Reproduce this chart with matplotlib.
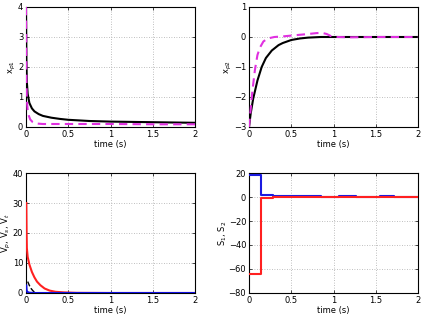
import matplotlib
matplotlib.use("Agg")
import matplotlib.pyplot as plt

# Top-left: x_p1
t_p1_a = [0, 0.005, 0.01, 0.02, 0.04, 0.07, 0.1, 0.15, 0.2, 0.3, 0.4, 0.5, 0.75, 1.0, 1.25, 1.5, 1.75, 2.0]
xp1_a = [4.0, 2.2, 1.5, 1.1, 0.8, 0.62, 0.52, 0.43, 0.37, 0.31, 0.27, 0.24, 0.2, 0.18, 0.17, 0.16, 0.15, 0.14]
t_p1_b = [0, 0.005, 0.01, 0.02, 0.03, 0.05, 0.08, 0.1, 0.15, 0.2, 0.5, 1.0, 1.5, 2.0]
xp1_b = [4.0, 1.6, 0.9, 0.55, 0.4, 0.25, 0.16, 0.13, 0.11, 0.1, 0.1, 0.1, 0.09, 0.09]

# Top-right: x_p2
t_p2_a = [0, 0.02, 0.05, 0.1, 0.15, 0.2, 0.27, 0.35, 0.4, 0.5, 0.6, 0.7, 0.85, 1.0, 1.5, 2.0]
xp2_a = [-3.0, -2.55, -2.05, -1.45, -1.0, -0.7, -0.45, -0.27, -0.2, -0.1, -0.05, -0.02, 0.0, 0.0, 0.0, 0.0]
t_p2_b = [0, 0.02, 0.04, 0.07, 0.1, 0.13, 0.17, 0.22, 0.3, 0.4, 0.55, 0.7, 0.8, 0.86, 0.92, 0.97, 1.05, 1.2, 1.5, 2.0]
xp2_b = [-3.0, -2.4, -1.8, -1.1, -0.6, -0.35, -0.15, -0.05, 0.0, 0.02, 0.06, 0.1, 0.13, 0.14, 0.1, 0.03, 0.0, -0.01, 0.0, 0.0]

# Bottom-left: V_p, V_s, V_t
t_v = [0.004, 0.007, 0.01, 0.02, 0.04, 0.07, 0.1, 0.13, 0.17, 0.22, 0.28, 0.35, 0.45, 0.6, 1.0, 2.0]
v_red = [30.0, 20.0, 15.0, 12.0, 9.5, 7.0, 5.2, 3.8, 2.6, 1.5, 0.8, 0.4, 0.2, 0.05, 0.0, 0.0]
v_blue = [2.5, 1.2, 0.6, 0.3, 0.1, 0.05, 0.0, 0.0, 0.0, 0.0, 0.0, 0.0, 0.0, 0.0, 0.0, 0.0]
t_vk = [0.02, 0.04, 0.06, 0.08, 0.1, 0.12]
v_black = [3.8, 2.5, 1.5, 0.8, 0.3, 0.0]

# Bottom-right: S_1, S_2 (step)
t_s = [0, 0.14, 0.28, 0.85, 1.07, 1.27, 1.55, 1.72, 2.0]
s1 = [18, 2, 1, 0, 1, 0, 1, 0, 0]
s2 = [-64, -1, -0.3, -0.3, -0.3, -0.3, -0.3, -0.3, -0.3]

xticks = [0, 0.5, 1, 1.5, 2]
xticklabels = ["0", "0.5", "1", "1.5", "2"]

plt.rcParams['font.family'] = ['DejaVu Sans']
fig = plt.figure(figsize=(4.23, 3.15), dpi=100)
W, H = 423, 315

def mkax(x0, x1, y0, y1):
    return fig.add_axes([x0 / W, 1 - y1 / H, (x1 - x0) / W, (y1 - y0) / H])

axes = [mkax(26, 195, 7, 127), mkax(249, 418, 7, 127),
        mkax(26, 195, 173, 293), mkax(249, 418, 173, 293)]

mag = '#e030e0'
ax = axes[0]
ax.plot(t_p1_a, xp1_a, color='black', lw=1.5, zorder=3)
ax.plot(t_p1_b, xp1_b, color=mag, lw=1.5, ls=(0, (4, 2.5)), zorder=3)
ax.set_ylim(0, 4)
ax.set_yticks([0, 1, 2, 3, 4])
ax.set_ylabel('x$_{p1}$')

ax = axes[1]
ax.plot(t_p2_a, xp2_a, color='black', lw=1.5, zorder=3)
ax.plot(t_p2_b, xp2_b, color=mag, lw=1.5, ls=(0, (4, 2.5)), zorder=3)
ax.set_ylim(-3, 1)
ax.set_yticks([-3, -2, -1, 0, 1])
ax.set_ylabel('x$_{p2}$')

ax = axes[2]
ax.plot(t_v, v_red, color='#ff2020', lw=1.5, zorder=3)
ax.plot(t_vk, v_black, color='black', lw=1.0, ls='--', zorder=3)
ax.plot(t_v, v_blue, color='#1010e0', lw=1.5, zorder=3)
ax.set_ylim(0, 40)
ax.set_yticks([0, 10, 20, 30, 40])
ax.set_ylabel('V$_p$, V$_s$, V$_t$')

ax = axes[3]
ax.step(t_s, s1, where='post', color='#1a1ae0', lw=1.5, zorder=3)
ax.step(t_s, s2, where='post', color='#ff2020', lw=1.5, zorder=3)
ax.set_ylim(-80, 20)
ax.set_yticks([-80, -60, -40, -20, 0, 20])
ax.set_ylabel('S$_1$, S$_2$')

for ax in axes:
    ax.set_xlim(0, 2)
    ax.set_xticks(xticks)
    ax.set_xticklabels(xticklabels)
    ax.set_xlabel('time (s)', fontsize=6, labelpad=1)
    ax.yaxis.label.set_size(6)
    ax.yaxis.labelpad = 0
    ax.tick_params(labelsize=6, length=2, width=0.5, direction='in', pad=2, top=True, right=True)
    ax.grid(True, ls=(0, (1, 2)), color='#aaaaaa', lw=0.6)
    for s in ax.spines.values():
        s.set_linewidth(0.8)

fig.savefig('out.png', dpi=100)
